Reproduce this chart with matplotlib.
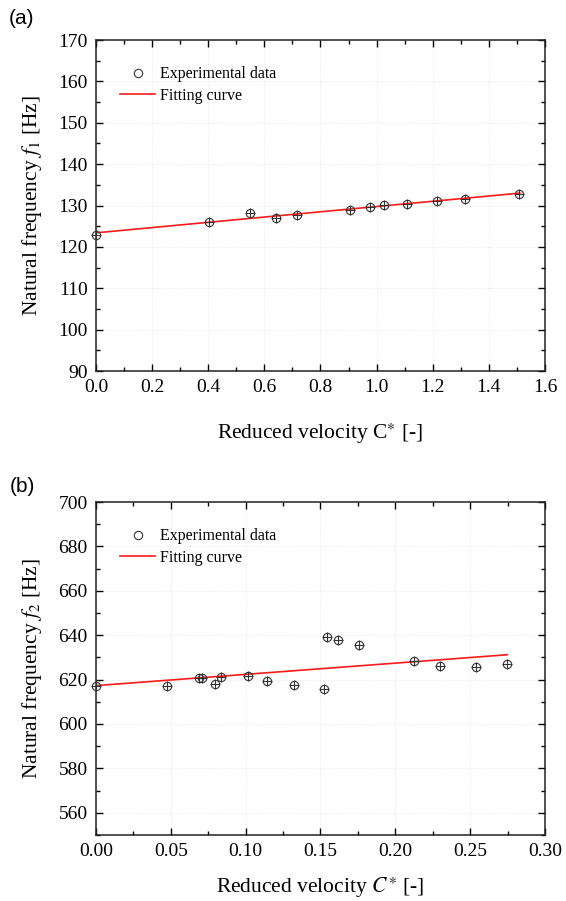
import numpy as np
import matplotlib.pyplot as plt

plt.rcParams['font.family'] = ['Liberation Serif', 'DejaVu Serif']
plt.rcParams['mathtext.fontset'] = 'stix'

# --- panel (a): first natural frequency ---
c_a = [0.0, 0.403, 0.549, 0.640, 0.715, 0.905, 0.975, 1.028, 1.108, 1.217, 1.316, 1.506]
f1 = [122.8, 126.0, 128.1, 127.1, 127.7, 129.0, 129.6, 130.1, 130.4, 131.1, 131.6, 132.8]
fit_a_x = [0.0, 1.51]
fit_a_y = [123.4, 133.0]

# --- panel (b): second natural frequency ---
c_b = [0.0, 0.0476, 0.0685, 0.0711, 0.0794, 0.0834, 0.1014, 0.1143, 0.1323,
       0.1525, 0.1545, 0.1620, 0.1758, 0.2124, 0.2300, 0.2541, 0.2748]
f2 = [617.3, 617.3, 620.6, 620.6, 617.9, 621.2, 621.4, 619.5, 617.6,
      615.9, 639.2, 637.9, 635.8, 628.3, 626.2, 625.6, 627.1]
fit_b_x = [0.0, 0.2748]
fit_b_y = [617.3, 631.2]

fig = plt.figure(figsize=(5.66, 9.01), dpi=100)
ax_a = fig.add_axes([0.1696, 0.5882, 0.7932, 0.3674])
ax_b = fig.add_axes([0.1696, 0.0733, 0.7932, 0.3695])


def style_axes(ax, xlim, ylim, xmaj, xmin, ymaj, ymin, fmt):
    ax.set_xlim(*xlim)
    ax.set_ylim(*ylim)
    ax.set_xticks(np.arange(xlim[0], xlim[1] + 1e-9, xmaj))
    ax.set_xticks(np.arange(xlim[0], xlim[1] + 1e-9, xmin), minor=True)
    ax.set_yticks(np.arange(ylim[0], ylim[1] + 1e-9, ymaj))
    ax.set_yticks(np.arange(ylim[0], ylim[1] + 1e-9, ymin), minor=True)
    ax.xaxis.set_major_formatter(plt.FormatStrFormatter(fmt))
    ax.tick_params(which='both', direction='in', top=True, right=True,
                   width=1.0, labelsize=14, pad=6)
    ax.tick_params(which='major', length=5)
    ax.tick_params(which='minor', length=3)
    for s in ax.spines.values():
        s.set_linewidth(1.1)
        s.set_color('#222222')
    ax.grid(True, which='major', color='#e6e6e6', linestyle=':', linewidth=0.7)
    ax.set_axisbelow(True)


def draw(ax, x, y, fx, fy):
    ax.plot(fx, fy, color='#ff1a1a', lw=1.2, zorder=2, label='Fitting curve')
    ax.plot(x, y, 'o', ms=7.5, mfc='none', mec='#333333', mew=0.8, zorder=3,
            label='Experimental data', clip_on=False)
    ax.plot(x, y, '+', ms=7.5, mec='#333333', mew=0.8, zorder=3, clip_on=False)
    h, l = ax.get_legend_handles_labels()
    h[1].set_markersize(6)
    ax.legend([h[1], h[0]], [l[1], l[0]], loc='upper left',
              bbox_to_anchor=(0.04, 0.94), frameon=False, fontsize=11.5,
              handlelength=2.2, handletextpad=0.3, labelspacing=0.35,
              borderaxespad=0.0)


draw(ax_a, c_a, f1, fit_a_x, fit_a_y)
style_axes(ax_a, (0.0, 1.6), (90, 170), 0.2, 0.1, 10, 5, '%.1f')
ax_a.set_xlabel(r'Reduced velocity C$^{\ast}$ [-]', fontsize=15.5, labelpad=18)
ax_a.set_ylabel(r'Natural frequency $f_1$ [Hz]', fontsize=15.5, labelpad=10)

draw(ax_b, c_b, f2, fit_b_x, fit_b_y)
style_axes(ax_b, (0.0, 0.30), (550, 700), 0.05, 0.025, 20, 10, '%.2f')
ax_b.set_yticks(np.arange(560, 701, 20))
ax_b.set_xlabel(r'Reduced velocity $C^{\ast}$ [-]', fontsize=15.5, labelpad=11)
ax_b.set_ylabel(r'Natural frequency $f_2$ [Hz]', fontsize=15.5, labelpad=10)

fig.text(22 / 566, 1 - 19 / 901, '(a)', family='Liberation Sans', fontsize=15,
         ha='center', va='center')
fig.text(22 / 566, 1 - 487 / 901, '(b)', family='Liberation Sans', fontsize=15,
         ha='center', va='center')

fig.savefig('out.png', dpi=100)
